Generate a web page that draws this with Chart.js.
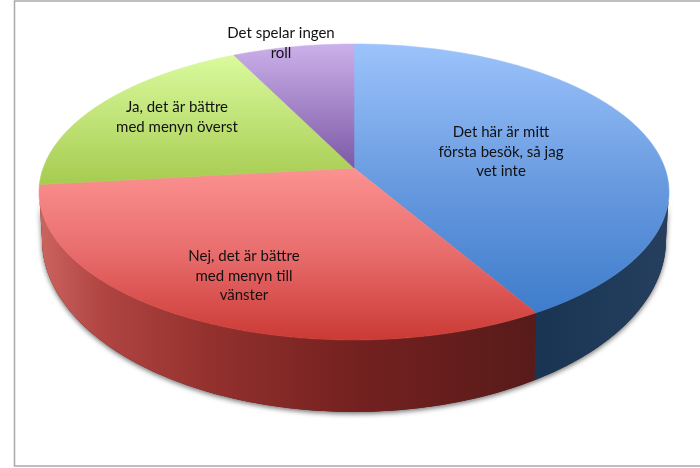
<!DOCTYPE html>
<html lang="sv">
<head>
<meta charset="utf-8">
<title>Meny</title>
<script src="https://cdn.jsdelivr.net/npm/chart.js@4"></script>
<style>
    html, body { margin: 0; padding: 0; background: #fff; overflow: hidden; }
    canvas { display: block; }
</style>
</head>
<body>
<canvas id="graficoMenu" width="700" height="468"></canvas>
<script>
// Datos (porcentaje aproximado)
const categorias = [
    ['Det här är mitt', 'första besök, så jag', 'vet inte'],
    ['Nej, det är bättre', 'med menyn till', 'vänster'],
    ['Ja, det är bättre', 'med menyn överst'],
    ['Det spelar ingen', 'roll']
];
const valores = [41.6, 31.6, 19.5, 7.3];

// Colores de la cara superior: [color, posición] de arriba abajo
const coloresSuperior = [
    [['#9cc3fb', 0], ['#6598de', 0.55], ['#3e7ccb', 1]],
    [['#fb9291', 0], ['#e86c6c', 0.5], ['#cb3a35', 1]],
    [['#dafa9e', 0], ['#a6cb50', 1]],
    [['#cbb0ea', 0], ['#7d59a6', 1]]
];
// Colores de la pared lateral, de izquierda a derecha
const coloresPared = [
    [['#1a3554', 0], ['#1a3554', 0.8], ['#263f5f', 1]],
    [['#cc6460', 0], ['#b04542', 0.1], ['#94312e', 0.27], ['#742120', 0.5], ['#571b19', 0.79], ['#571b19', 1]],
    [['#7d9a3d', 0], ['#7d9a3d', 1]],
    [['#5c4480', 0], ['#5c4480', 1]]
];
// Centro de cada línea de texto
const posEtiquetas = [
    { x: 501, y: 132 },
    { x: 244, y: 256 },
    { x: 177, y: 107 },
    { x: 281, y: 33 }
];

// Perspectiva: el disco es un círculo proyectado, el centro queda por encima del centro de la elipse
const K = 0.162;
const bordeSup = { cx: 354, cy: 168, a: 144.1, b: 310.8 };
const bordeInf = { cx: 354, cy: 212, a: 167.5, b: 307.9 };

function proyectar(angulo, borde, r = 1) {
    const X = Math.cos(angulo) * r;
    const Y = Math.sin(angulo) * r;
    const w = 1 - K * Y;
    return { x: borde.cx + borde.b * X / w, y: borde.cy + borde.a * Y / w };
}

function crearGradiente(ctx, x0, y0, x1, y1, paradas) {
    const g = ctx.createLinearGradient(x0, y0, x1, y1);
    paradas.forEach(p => g.addColorStop(p[1], p[0]));
    return g;
}

function trazarArco(ctx, inicio, fin, borde, primero) {
    const pasos = 140;
    for (let i = 0; i <= pasos; i++) {
        const p = proyectar(inicio + (fin - inicio) * i / pasos, borde);
        if (i === 0 && primero) ctx.moveTo(p.x, p.y);
        else ctx.lineTo(p.x, p.y);
    }
}

// Cada porción se dibuja con sus ángulos calculados por Chart.js, pero proyectada
Chart.ArcElement.prototype.draw = function (ctx) {
    ctx.save();
    ctx.beginPath();
    ctx.moveTo(bordeSup.cx, bordeSup.cy);
    trazarArco(ctx, this.startAngle, this.endAngle, bordeSup, false);
    ctx.closePath();
    ctx.fillStyle = this.options.backgroundColor;
    ctx.strokeStyle = this.options.backgroundColor;
    ctx.lineWidth = 0.6;
    ctx.fill();
    ctx.stroke();
    ctx.restore();
};

const paredLateral = {
    id: 'paredLateral',
    beforeDatasetsDraw(chart) {
        const ctx = chart.ctx;
        const minimo = Math.asin(K);
        const maximo = Math.PI - minimo;

        // Sombra de todo el contorno
        ctx.save();
        ctx.beginPath();
        trazarArco(ctx, minimo, maximo, bordeSup, true);
        trazarArco(ctx, maximo, minimo, bordeInf, false);
        ctx.closePath();
        ctx.shadowColor = 'rgba(0,0,0,0.55)';
        ctx.shadowBlur = 5;
        ctx.shadowOffsetY = 2;
        ctx.fillStyle = '#571b19';
        ctx.fill();
        ctx.restore();

        chart.getDatasetMeta(0).data.forEach((arco, i) => {
            const inicio = Math.max(arco.startAngle, minimo);
            const fin = Math.min(arco.endAngle, maximo);
            if (fin <= inicio) return;
            ctx.beginPath();
            trazarArco(ctx, inicio, fin, bordeSup, true);
            trazarArco(ctx, fin, inicio, bordeInf, false);
            ctx.closePath();
            ctx.fillStyle = crearGradiente(ctx, 39, 0, 669, 0, coloresPared[i]);
            ctx.fill();
        });
    }
};

const etiquetasTexto = {
    id: 'etiquetasTexto',
    afterDatasetsDraw(chart) {
        const ctx = chart.ctx;
        ctx.save();
        ctx.font = '15px Lato';
        ctx.fillStyle = '#111';
        ctx.textAlign = 'center';
        ctx.textBaseline = 'middle';
        chart.data.labels.forEach((lineas, i) => {
            lineas.forEach((linea, j) => {
                ctx.fillText(linea, posEtiquetas[i].x, posEtiquetas[i].y + j * 19.7);
            });
        });
        ctx.restore();
    }
};

// Marco gris: izquierda, arriba y abajo
const marco = {
    id: 'marco',
    beforeDraw(chart) {
        const ctx = chart.ctx;
        ctx.save();
        ctx.strokeStyle = '#a9a9a9';
        ctx.lineWidth = 1.5;
        ctx.beginPath();
        ctx.moveTo(700, 1);
        ctx.lineTo(14.5, 1);
        ctx.lineTo(14.5, 466);
        ctx.lineTo(700, 466);
        ctx.stroke();
        ctx.restore();
    }
};

const ctx = document.getElementById('graficoMenu').getContext('2d');
const grafico = new Chart(ctx, {
    type: 'pie',
    data: {
        labels: categorias,
        datasets: [{
            data: valores,
            borderWidth: 0,
            backgroundColor: c => {
                const i = c.dataIndex === undefined ? 0 : c.dataIndex;
                const rango = [[44, 313], [168, 340], [55, 185], [44, 168]][i];
                return crearGradiente(c.chart.ctx, 0, rango[0], 0, rango[1], coloresSuperior[i]);
            }
        }]
    },
    options: {
        responsive: false,
        animation: false,
        events: [],
        plugins: { legend: { display: false }, tooltip: { enabled: false } }
    },
    plugins: [marco, paredLateral, etiquetasTexto]
});
</script>
</body>
</html>
